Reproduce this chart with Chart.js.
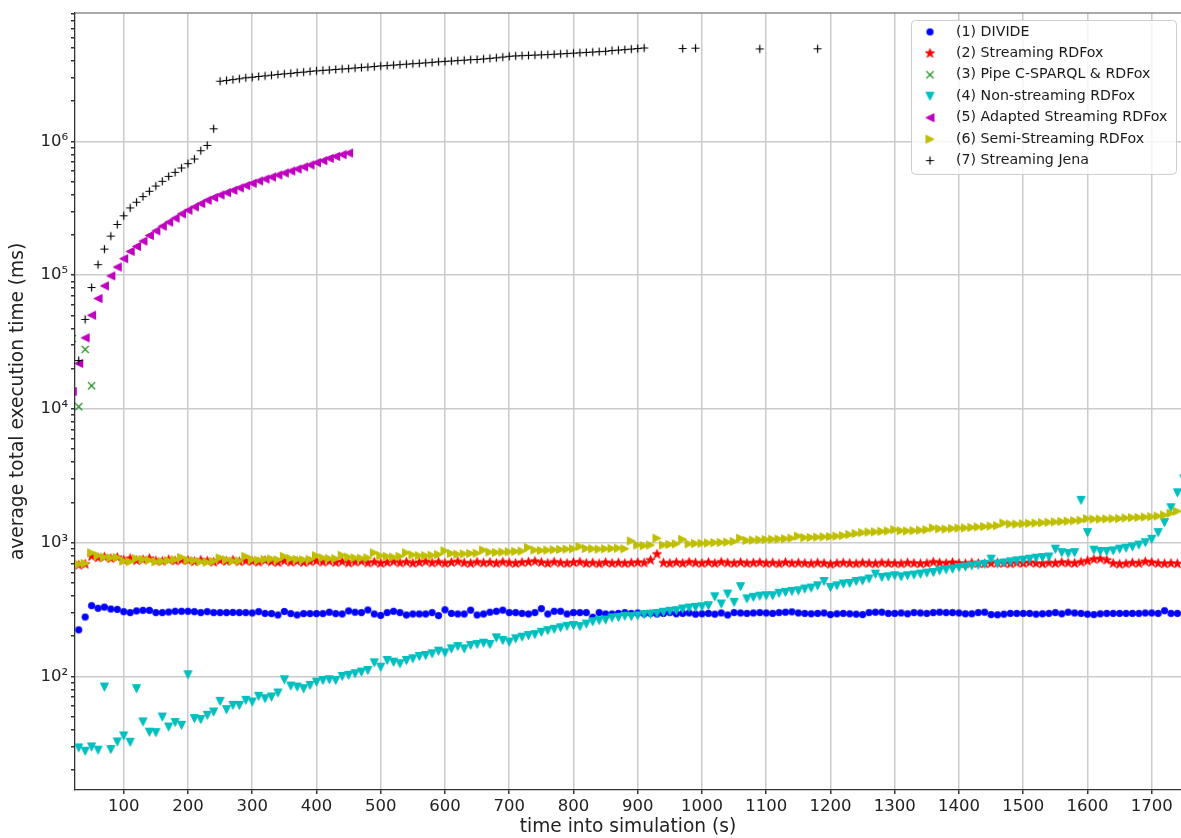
<!DOCTYPE html>
<html>
<head>
<meta charset="utf-8">
<title>average total execution time</title>
<script src="https://cdn.jsdelivr.net/npm/chart.js@4.4.0/dist/chart.umd.min.js"></script>
<style>
  html, body { margin: 0; padding: 0; background: #ffffff; }
  #grafica { display: block; }
</style>
</head>
<body>
<canvas id="grafica" width="1181" height="838"></canvas>
<script>
// Instantes de medida (s) compartidos por DIVIDE, Streaming RDFox, Non-streaming y Semi-Streaming
const times = [
  30, 40, 50, 60, 70, 80, 90,
  100, 110, 120, 130, 140, 150, 160, 170, 180, 190,
  200, 210, 220, 230, 240, 250, 260, 270, 280, 290,
  300, 310, 320, 330, 340, 350, 360, 370, 380, 390,
  400, 410, 420, 430, 440, 450, 460, 470, 480, 490,
  500, 510, 520, 530, 540, 550, 560, 570, 580, 590,
  600, 610, 620, 630, 640, 650, 660, 670, 680, 690,
  700, 710, 720, 730, 740, 750, 760, 770, 780, 790,
  800, 810, 820, 830, 840, 850, 860, 870, 880, 890,
  900, 910, 920, 930, 940, 950, 960, 970, 980, 990,
  1000, 1010, 1020, 1030, 1040, 1050, 1060, 1070, 1080, 1090,
  1100, 1110, 1120, 1130, 1140, 1150, 1160, 1170, 1180, 1190,
  1200, 1210, 1220, 1230, 1240, 1250, 1260, 1270, 1280, 1290,
  1300, 1310, 1320, 1330, 1340, 1350, 1360, 1370, 1380, 1390,
  1400, 1410, 1420, 1430, 1440, 1450, 1460, 1470, 1480, 1490,
  1500, 1510, 1520, 1530, 1540, 1550, 1560, 1570, 1580, 1590,
  1600, 1610, 1620, 1630, 1640, 1650, 1660, 1670, 1680, 1690,
  1700, 1710, 1720, 1730, 1740
];

// (1) DIVIDE (ms)
const divide = [
  223, 278, 338, 323, 330, 319, 317,
  305, 300, 309, 312, 312, 300, 300, 303, 307, 307,
  307, 305, 300, 305, 300, 300, 300, 301, 300, 300,
  298, 305, 296, 295, 288, 306, 295, 288, 295, 295,
  295, 295, 302, 295, 293, 309, 302, 300, 314, 293,
  286, 300, 307, 300, 288, 293, 293, 293, 300, 285,
  315, 296, 293, 293, 313, 288, 293, 302, 307, 313,
  300, 300, 296, 293, 300, 321, 293, 307, 307, 293,
  300, 300, 300, 277, 300, 293, 293, 296, 300, 296,
  298, 294, 296, 293, 296, 300, 294, 296, 298, 292,
  294, 296, 292, 298, 288, 300, 298, 296, 298, 300,
  298, 296, 300, 302, 304, 298, 296, 294, 296, 298,
  290, 294, 296, 294, 292, 290, 300, 302, 302, 296,
  296, 298, 294, 300, 298, 296, 300, 302, 300, 300,
  298, 294, 294, 300, 302, 290, 289, 292, 296, 296,
  296, 296, 292, 294, 296, 300, 294, 302, 298, 296,
  292, 290, 294, 296, 296, 296, 296, 296, 296, 298,
  298, 296, 310, 296, 296
];

// (2) Streaming RDFox (ms)
const streamingRdfox = [
  680, 690, 790, 770, 780, 760, 775,
  740, 760, 735, 745, 760, 730, 725, 745, 730, 740,
  735, 720, 740, 730, 715, 735, 725, 740, 720, 730,
  725, 715, 735, 720, 710, 730, 715, 725, 710, 720,
  730, 715, 725, 710, 720, 705, 715, 725, 705, 715,
  700, 710, 720, 705, 715, 700, 710, 720, 705, 715,
  700, 710, 720, 705, 700, 715, 705, 710, 700, 715,
  705, 700, 710, 715, 725, 710, 700, 715, 705, 700,
  710, 715, 700, 705, 695, 710, 700, 705, 700, 705,
  710, 705, 740, 820, 705, 700, 710, 700, 715, 705,
  700, 710, 700, 715, 705, 700, 710, 700, 705, 710,
  700, 705, 695, 710, 700, 705, 700, 695, 705, 700,
  690, 700, 705, 700, 695, 705, 700, 695, 705, 700,
  700, 695, 705, 700, 695, 700, 715, 705, 700, 710,
  700, 695, 705, 700, 695, 700, 705, 700, 695, 705,
  700, 710, 700, 695, 705, 700, 710, 705, 700, 715,
  730, 750, 755, 740, 700, 690, 695, 705, 700, 720,
  710, 700, 695, 700, 695
];

// (3) Pipe C-SPARQL & RDFox
const pipeTimes = [20, 30, 40, 50];
const pipe = [33600, 10400, 27900, 14900];

// (4) Non-streaming RDFox: un punto mas en 1750 s, cortado por el borde
const nonStreamingTimes = times.concat([1750]);
const nonStreaming = [
  29.2, 27.6, 29.7, 28.1, 83.3, 28.4, 32.4,
  35.9, 32.2, 81, 45.7, 38.3, 38.0, 49.7, 41.9, 45.2, 43.1,
  103, 48.4, 47.6, 51.2, 54.2, 65.1, 56.5, 60.8, 60.8, 66.3,
  64.4, 71, 68.2, 70.2, 75.2, 94.5, 84.7, 83.3, 81, 85.7,
  90.7, 93.4, 94.5, 93.4, 100, 102, 104.7, 107.7, 110.8, 126.5,
  117.3, 131.6, 127.8, 124.4, 131.6, 135.5, 140.9, 143.4, 147.6, 154.4,
  150.1, 160.8, 167.3, 160.8, 170.5, 173.4, 177.2, 173.4, 194.2, 185.5,
  180.5, 191.1, 196.6, 202.2, 205.5, 213.7, 219.8, 225.2, 230.9, 236.9,
  240.3, 235.7, 246.5, 256.5, 261.5, 264.4, 273.7, 276.2, 282, 280,
  284, 290, 292, 296, 302, 307, 310, 319, 325, 328,
  332, 338, 394, 348, 413, 358, 469, 380, 390, 398,
  401, 401, 418, 425, 432, 437, 450, 458, 476, 513,
  463, 476, 491, 496, 513, 519, 535, 582, 550, 556,
  566, 555, 566, 573, 582, 592, 599, 617, 628, 635,
  652, 659, 671, 679, 690, 753, 692, 704, 719, 731,
  740, 753, 766, 774, 782, 894, 843, 829, 843, 2073,
  1190, 879, 859, 859, 869, 894, 910, 931, 960, 1000,
  1060, 1190, 1413, 1826, 2360,
  3000
];

// (5) Adapted Streaming RDFox
const adaptedTimes = [
  20, 30, 40, 50, 60, 70, 80, 90,
  100, 110, 120, 130, 140, 150, 160, 170, 180, 190,
  200, 210, 220, 230, 240, 250, 260, 270, 280, 290,
  300, 310, 320, 330, 340, 350, 360, 370, 380, 390,
  400, 410, 420, 430, 440, 450
];
const adapted = [
  13500, 21900, 34000, 50200, 66900, 83100, 98700, 115000,
  132800, 150600, 164100, 179800, 198100, 214600, 232600, 249000, 266800, 287400,
  306000, 324000, 343000, 363500, 380500, 398000, 414000, 431000, 449000, 467600,
  486700, 506000, 523600, 541900, 560900, 580400, 600800, 621800, 644000, 667000,
  694000, 718000, 747000, 773000, 796000, 819000
];

// (6) Semi-Streaming RDFox
const semiStreaming = [
  690, 700, 840, 800, 780, 770, 775,
  730, 720, 760, 750, 740, 720, 725, 735, 745, 775,
  740, 735, 720, 715, 725, 770, 745, 730, 730, 790,
  750, 740, 750, 755, 745, 790, 760, 750, 745, 750,
  800, 770, 760, 760, 805, 780, 770, 765, 770, 840,
  800, 790, 780, 790, 840, 810, 800, 800, 805, 815,
  870, 830, 820, 825, 830, 835, 880, 850, 845, 850,
  855, 860, 865, 920, 880, 875, 880, 885, 890, 895,
  900, 935, 905, 900, 895, 900, 905, 910, 900, 1030,
  960, 950, 960, 1080, 960, 970, 980, 1060, 980, 985,
  990, 995, 1000, 1005, 1010, 1020, 1080, 1040, 1045, 1050,
  1055, 1060, 1065, 1070, 1080, 1120, 1090, 1095, 1100, 1105,
  1110, 1120, 1130, 1150, 1170, 1190, 1200, 1205, 1215, 1225,
  1250, 1230, 1225, 1230, 1240, 1250, 1290, 1270, 1265, 1275,
  1285, 1290, 1300, 1310, 1320, 1330, 1340, 1400, 1380, 1375,
  1385, 1395, 1400, 1410, 1420, 1430, 1440, 1450, 1460, 1470,
  1510, 1500, 1500, 1505, 1510, 1515, 1530, 1540, 1545, 1555,
  1565, 1580, 1610, 1660, 1720
];

// (7) Streaming Jena
const jenaTimes = [
  30, 40, 50, 60, 70, 80, 90,
  100, 110, 120, 130, 140, 150, 160, 170, 180, 190,
  200, 210, 220, 230, 240, 250, 260, 270, 280, 290,
  300, 310, 320, 330, 340, 350, 360, 370, 380, 390,
  400, 410, 420, 430, 440, 450, 460, 470, 480, 490,
  500, 510, 520, 530, 540, 550, 560, 570, 580, 590,
  600, 610, 620, 630, 640, 650, 660, 670, 680, 690,
  700, 710, 720, 730, 740, 750, 760, 770, 780, 790,
  800, 810, 820, 830, 840, 850, 860, 870, 880, 890,
  900, 910, 970, 990, 1090, 1180
];
const jena = [
  23000, 46700, 80800, 119800, 156700, 195900, 239300,
  278000, 318500, 351000, 387000, 424000, 464000, 503000, 548000, 587000, 633000,
  682000, 739000, 852000, 934000, 1243000, 2.82e6, 2.86e6, 2.90e6, 2.94e6, 2.99e6,
  3.02e6, 3.06e6, 3.09e6, 3.13e6, 3.17e6, 3.20e6, 3.23e6, 3.27e6, 3.30e6, 3.34e6,
  3.37e6, 3.40e6, 3.42e6, 3.45e6, 3.48e6, 3.50e6, 3.54e6, 3.57e6, 3.60e6, 3.63e6,
  3.67e6, 3.69e6, 3.72e6, 3.75e6, 3.78e6, 3.81e6, 3.84e6, 3.87e6, 3.90e6, 3.94e6,
  3.97e6, 3.99e6, 4.02e6, 4.05e6, 4.08e6, 4.10e6, 4.14e6, 4.18e6, 4.22e6, 4.27e6,
  4.33e6, 4.36e6, 4.38e6, 4.40e6, 4.42e6, 4.44e6, 4.46e6, 4.49e6, 4.51e6, 4.54e6,
  4.57e6, 4.60e6, 4.63e6, 4.66e6, 4.69e6, 4.72e6, 4.78e6, 4.82e6, 4.86e6, 4.90e6,
  4.95e6, 5.00e6, 4.95e6, 4.98e6, 4.92e6, 4.93e6
];

// Marcas de los ejes
const xTicks = [100, 200, 300, 400, 500, 600, 700, 800, 900, 1000, 1100, 1200, 1300, 1400, 1500, 1600, 1700];
const yMajorTicks = [1e2, 1e3, 1e4, 1e5, 1e6];
const yTickLabels = ['10²', '10³', '10⁴', '10⁵', '10⁶'];

const FONT = '"DejaVu Sans", "Liberation Sans", sans-serif';

// Dibuja un marcador estilo matplotlib en un canvas pequeño
function makeMarker(shape, color) {
  const c = document.createElement('canvas');
  c.width = 15;
  c.height = 15;
  const g = c.getContext('2d');
  g.translate(7.5, 7.5);
  g.fillStyle = color;
  g.strokeStyle = color;
  g.lineWidth = 1;
  const h = 4;
  g.beginPath();
  if (shape === 'circle') {
    g.arc(0, 0, 3.2, 0, Math.PI * 2);
  } else if (shape === 'star') {
    for (let k = 0; k < 10; k++) {
      const r = k % 2 === 0 ? 4.8 : 4.8 * 0.382;
      const a = -Math.PI / 2 + k * Math.PI / 5;
      if (k === 0) g.moveTo(r * Math.cos(a), r * Math.sin(a));
      else g.lineTo(r * Math.cos(a), r * Math.sin(a));
    }
    g.closePath();
  } else if (shape === 'down') {
    g.moveTo(0, h); g.lineTo(-h, -h); g.lineTo(h, -h); g.closePath();
  } else if (shape === 'left') {
    g.moveTo(-h, 0); g.lineTo(h, -h); g.lineTo(h, h); g.closePath();
  } else if (shape === 'right') {
    g.moveTo(h, 0); g.lineTo(-h, -h); g.lineTo(-h, h); g.closePath();
  } else if (shape === 'x') {
    g.lineWidth = 1.2;
    g.moveTo(-3.6, -3.6); g.lineTo(3.6, 3.6);
    g.moveTo(-3.6, 3.6); g.lineTo(3.6, -3.6);
    g.stroke();
    return c;
  } else if (shape === 'plus') {
    g.lineWidth = 1.2;
    g.moveTo(-h, 0); g.lineTo(h, 0);
    g.moveTo(0, -h); g.lineTo(0, h);
    g.stroke();
    return c;
  }
  g.fill();
  g.stroke();
  return c;
}

// Series en el orden de la leyenda
const series = [
  { label: '(1) DIVIDE', t: times, v: divide, shape: 'circle', color: '#0000ff' },
  { label: '(2) Streaming RDFox', t: times, v: streamingRdfox, shape: 'star', color: '#ff0000' },
  { label: '(3) Pipe C-SPARQL & RDFox', t: pipeTimes, v: pipe, shape: 'x', color: '#008000' },
  { label: '(4) Non-streaming RDFox', t: nonStreamingTimes, v: nonStreaming, shape: 'down', color: '#00bfbf' },
  { label: '(5) Adapted Streaming RDFox', t: adaptedTimes, v: adapted, shape: 'left', color: '#bf00bf' },
  { label: '(6) Semi-Streaming RDFox', t: times, v: semiStreaming, shape: 'right', color: '#bfbf00' },
  { label: '(7) Streaming Jena', t: jenaTimes, v: jena, shape: 'plus', color: '#000000' }
];

const datasets = series.map((s, i) => ({
  label: s.label,
  data: s.t.map((t, k) => ({ x: t, y: s.v[k] })),
  pointStyle: makeMarker(s.shape, s.color),
  pointRadius: 4,
  pointHoverRadius: 4,
  backgroundColor: s.color,
  borderColor: s.color,
  showLine: false,
  clip: 0,
  // las ultimas series quedan encima, como en matplotlib
  order: series.length - i
}));

// Leyenda dentro del area del grafico (arriba a la derecha) + borde superior
const legendInside = {
  id: 'legendInside',
  afterDatasetsDraw(chart) {
    const { ctx, chartArea } = chart;
    ctx.save();
    ctx.strokeStyle = '#8c8c8c';
    ctx.lineWidth = 1.5;
    ctx.beginPath();
    ctx.moveTo(chartArea.left, chartArea.top);
    ctx.lineTo(chartArea.right, chartArea.top);
    ctx.stroke();

    const w = 265, h = 154;
    const x0 = chartArea.right - 5 - w;
    const y0 = chartArea.top + 7;
    ctx.beginPath();
    ctx.roundRect(x0 + 0.5, y0 + 0.5, w, h, 4);
    ctx.fillStyle = 'rgba(255,255,255,0.8)';
    ctx.fill();
    ctx.strokeStyle = '#cccccc';
    ctx.lineWidth = 1;
    ctx.stroke();

    ctx.font = '14.2px ' + FONT;
    ctx.fillStyle = '#1a1a1a';
    ctx.textBaseline = 'middle';
    ctx.textAlign = 'left';
    chart.data.datasets.forEach((ds, i) => {
      const cy = y0 + 12 + i * 21.45;
      ctx.drawImage(ds.pointStyle, x0 + 19 - 7.5, cy - 7.5);
      ctx.fillText(ds.label, x0 + 45, cy);
    });
    ctx.restore();
  }
};

const isMajor = (v) => yMajorTicks.indexOf(v) >= 0;

const grafica = new Chart(document.getElementById('grafica'), {
  type: 'scatter',
  data: { datasets: datasets },
  options: {
    responsive: false,
    devicePixelRatio: 1,
    animation: false,
    events: [],
    layout: { autoPadding: false, padding: { top: 10, right: 0, left: 0, bottom: 0 } },
    plugins: {
      legend: { display: false },
      tooltip: { enabled: false }
    },
    scales: {
      x: {
        type: 'linear',
        min: 24.2,
        max: 1745.6,
        bounds: 'data',
        afterBuildTicks: (axis) => { axis.ticks = xTicks.map(v => ({ value: v })); },
        afterFit: (axis) => { axis.height = 48; },
        ticks: {
          autoSkip: false,
          maxRotation: 0,
          padding: 3,
          color: '#222222',
          font: { family: FONT, size: 16.5 },
          callback: (v) => String(v)
        },
        grid: { color: '#cbcbcb', lineWidth: 1.5, tickLength: 4, tickColor: '#333333' },
        border: { color: '#333333', width: 1.3 },
        title: {
          display: true,
          text: 'time into simulation (s)',
          color: '#222222',
          font: { family: FONT, size: 18.6 },
          padding: { top: 0, bottom: 0 }
        }
      },
      y: {
        type: 'logarithmic',
        min: 14.15,
        max: 9.14e6,
        bounds: 'data',
        afterBuildTicks: (axis) => {
          const ticks = [];
          for (let e = 1; e <= 6; e++) {
            for (let m = 1; m <= 9; m++) {
              const v = m * Math.pow(10, e);
              if (v >= axis.min && v <= axis.max) ticks.push({ value: v });
            }
          }
          axis.ticks = ticks;
        },
        afterFit: (axis) => { axis.width = 75; },
        ticks: {
          autoSkip: false,
          padding: 3,
          color: '#222222',
          font: { family: FONT, size: 16.5 },
          callback: (v) => {
            const k = yMajorTicks.indexOf(v);
            return k >= 0 ? yTickLabels[k] : '';
          }
        },
        grid: {
          color: (ctx) => (ctx.tick && isMajor(ctx.tick.value)) ? '#cbcbcb' : 'rgba(0,0,0,0)',
          lineWidth: 1.5,
          tickLength: 4,
          tickColor: '#333333'
        },
        border: { color: '#333333', width: 1.3 },
        title: {
          display: true,
          text: 'average total execution time (ms)',
          color: '#222222',
          font: { family: FONT, size: 18.6 },
          padding: { top: 7, bottom: 0 }
        }
      }
    }
  },
  plugins: [legendInside]
});
</script>
</body>
</html>
